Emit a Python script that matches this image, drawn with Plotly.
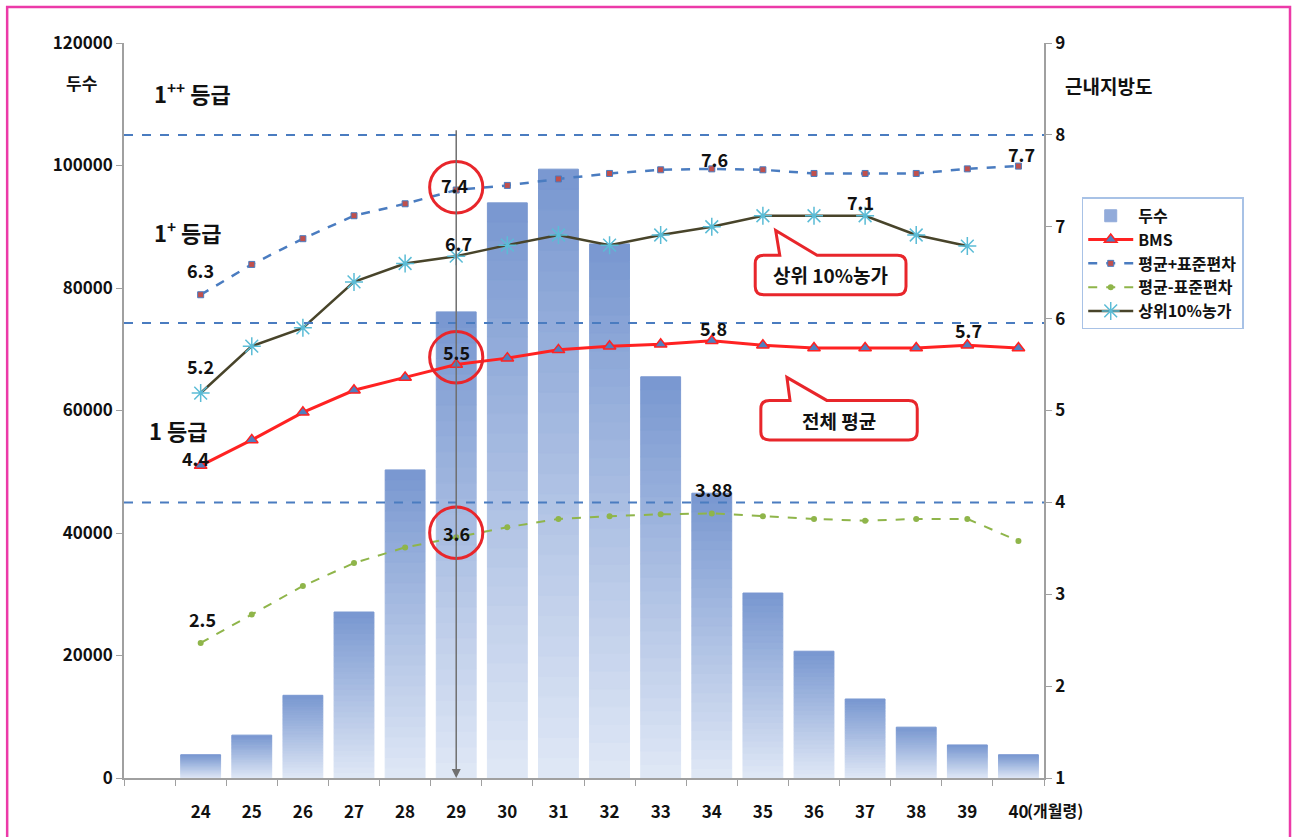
import plotly.graph_objects as go

# ---- data -------------------------------------------------------------
months = list(range(24, 41))
month_labels = [str(m) for m in months]

heads = [3800, 7000, 13500, 27100, 50300, 76100, 93900, 99400, 87200,
         65500, 46500, 30200, 20700, 12900, 8300, 5400, 3800]

bms = [4.40, 4.68, 4.98, 5.22, 5.36, 5.50, 5.57, 5.66, 5.70,
       5.72, 5.76, 5.71, 5.68, 5.68, 5.68, 5.71, 5.68]

mean_plus_sd = [6.26, 6.59, 6.87, 7.12, 7.25, 7.40, 7.45, 7.52, 7.58,
                7.62, 7.63, 7.62, 7.58, 7.58, 7.58, 7.63, 7.66]

mean_minus_sd = [2.47, 2.78, 3.09, 3.34, 3.51, 3.62, 3.73, 3.82, 3.85,
                 3.87, 3.88, 3.85, 3.82, 3.80, 3.82, 3.82, 3.58]

top10_farms = [5.19, 5.70, 5.90, 6.40, 6.60, 6.68, 6.80, 6.91, 6.80,
               6.91, 7.00, 7.12, 7.12, 7.12, 6.91, 6.79, None]

grade_bounds = [105000, 74300, 45000]

FONT = "Noto Sans CJK KR"
BLACK = "#111111"

fig = go.Figure()

# ---- 두수 bars, built as stacked slices to get a vertical gradient ---------
N_STEPS = 30
top_rgb = (120, 151, 208)
bottom_rgb = (224, 232, 246)
for k in range(N_STEPS):
    t = (k + 0.5) / N_STEPS
    rgb = [round(b + (tp - b) * t) for b, tp in zip(bottom_rgb, top_rgb)]
    col = f"rgb({rgb[0]},{rgb[1]},{rgb[2]})"
    fig.add_trace(go.Bar(
        x=months,
        y=[v / N_STEPS for v in heads],
        base=[v * k / N_STEPS for v in heads],
        width=0.78,
        marker=dict(color=col, line=dict(color=col, width=1)),
        name="두수",
        legendgroup="heads",
        legendrank=1,
        showlegend=(k == N_STEPS - 8),
        yaxis="y",
        hoverinfo="skip",
    ))

# ---- line series on the right axis -----------------------------------
fig.add_trace(go.Scatter(
    x=months, y=bms, name="BMS", yaxis="y2", mode="lines+markers",
    line=dict(color="#ff2222", width=3),
    marker=dict(symbol="triangle-up", size=11, color="#4f7fbf",
                line=dict(color="#ff2222", width=1.5)),
    legendgroup="bms", legendrank=2,
))
fig.add_trace(go.Scatter(
    x=months, y=mean_plus_sd, name="평균+표준편차", yaxis="y2", mode="lines+markers",
    line=dict(color="#4a7cc0", width=2.5, dash="dash"),
    marker=dict(symbol="square", size=6, color="#c0504d",
                line=dict(color="#4a7cc0", width=1)),
    legendgroup="mplus", legendrank=3,
))
fig.add_trace(go.Scatter(
    x=months, y=mean_minus_sd, name="평균-표준편차", yaxis="y2", mode="lines+markers",
    line=dict(color="#8fb54a", width=2, dash="dash"),
    marker=dict(symbol="circle", size=6, color="#8fb54a"),
    legendgroup="mminus", legendrank=4,
))
fig.add_trace(go.Scatter(
    x=months, y=top10_farms, name="상위10%농가", yaxis="y2", mode="lines+markers",
    line=dict(color="#48442a", width=2.5),
    marker=dict(symbol="asterisk-open", size=15, color="#5bbcd6",
                line=dict(color="#5bbcd6", width=1.5)),
    legendgroup="top10", legendrank=5,
))

# ---- shapes ------------------------------------------------------------
shapes = []

# grade boundary lines
for b in grade_bounds:
    shapes.append(dict(type="line", xref="paper", x0=0, x1=1, yref="y", y0=b, y1=b,
                       line=dict(color="#4a7cc0", width=2, dash="dash"), layer="above"))

# red circles around the 29-month values
for cy in [7.43, 5.58, 3.67]:
    shapes.append(dict(type="circle", xref="x", yref="y2",
                       x0=29 - 0.52, x1=29 + 0.52, y0=cy - 0.28, y1=cy + 0.28,
                       line=dict(color="#e8262b", width=3), layer="above"))


def callout_path(x0, x1, y0, y1, tip, bx0, bx1, rx=0.17, ry=0.09):
    tx, ty = tip
    return (f"M {x0 + rx},{y1} L {bx0},{y1} L {tx},{ty} L {bx1},{y1} "
            f"L {x1 - rx},{y1} Q {x1},{y1} {x1},{y1 - ry} "
            f"L {x1},{y0 + ry} Q {x1},{y0} {x1 - rx},{y0} "
            f"L {x0 + rx},{y0} Q {x0},{y0} {x0},{y0 + ry} "
            f"L {x0},{y1 - ry} Q {x0},{y1} {x0 + rx},{y1} Z")


callouts = [
    ("상위 10%농가", 34.85, 37.80, 6.26, 6.69, (35.25, 6.96), 35.33, 36.06),
    ("전체 평균", 34.96, 38.02, 4.68, 5.11, (35.47, 5.36), 35.53, 36.25),
]
annotations = []
for text, x0, x1, y0, y1, tip, bx0, bx1 in callouts:
    shapes.append(dict(type="path", xref="x", yref="y2",
                       path=callout_path(x0, x1, y0, y1, tip, bx0, bx1),
                       fillcolor="white", line=dict(color="#e8262b", width=3),
                       layer="above"))
    annotations.append(dict(x=(x0 + x1) / 2, y=(y0 + y1) / 2, xref="x", yref="y2",
                            text=f"<b>{text}</b>", showarrow=False,
                            font=dict(family=FONT, size=19, color=BLACK)))

# page frame
shapes.append(dict(type="rect", xref="paper", yref="paper",
                   x0=-0.127, x1=1.2674, y0=-0.12, y1=1.049,
                   line=dict(color="#ec3aa8", width=2.5), layer="above"))

# ---- vertical arrow at 29 months --------------------------------------
annotations.append(dict(x=29, y=0, xref="x", yref="y", ax=29, ay=106000,
                        axref="x", ayref="y", showarrow=True, arrowhead=2,
                        arrowsize=1.2, arrowwidth=1.5, arrowcolor="#707070", text=""))

# ---- value labels ----------------------------------------------------
series = {"bms": bms, "mplus": mean_plus_sd, "mminus": mean_minus_sd, "top10": top10_farms}
value_labels = [
    ("mplus", 24, 0, 25, 1), ("top10", 24, 0, 27, 1), ("bms", 24, -5, 8, 1),
    ("mminus", 24, 2, 24, 1),
    ("mplus", 29, -2, 5, 1), ("top10", 29, 2, 13, 1), ("bms", 29, 0, 13, 1),
    ("mminus", 29, 0, 4, 1),
    ("mplus", 34, 3, 10, 1), ("mplus", 40, 3, 12, 1), ("top10", 37, -5, 14, 1),
    ("bms", 34, 2, 13, 1), ("bms", 39, 1, 15, 1), ("mminus", 34, 2, 24, 2),
]
for key, m, dx, dy, dec in value_labels:
    v = series[key][months.index(m)]
    annotations.append(dict(x=m, y=v, xref="x", yref="y2", text=f"<b>{v:.{dec}f}</b>",
                            showarrow=False, xshift=dx, yshift=dy,
                            font=dict(family=FONT, size=18, color=BLACK)))

# ---- grade and axis titles ----------------------------------------------
text_notes = [
    ("1<sup>++</sup> 등급", 0.030, 0.932, "left", 22, 0),
    ("1<sup>+</sup> 등급", 0.030, 0.743, "left", 22, 0),
    ("1 등급", 0.025, 0.4735, "left", 22, 0),
    ("두수", -0.0457, 0.9456, "center", 17, 0),
    ("근내지방도", 1.0696, 0.9415, "center", 19, 0),
    ("(개월령)", 1.0, -0.0435, "left", 16, -19),
]
for text, x, y, anchor, size, xs in text_notes:
    annotations.append(dict(x=x, y=y, xref="paper", yref="paper", text=f"<b>{text}</b>",
                            showarrow=False, xanchor=anchor, yanchor="middle",
                            xshift=xs, font=dict(family=FONT, size=size, color=BLACK)))

axis_line = "#a0a0a0"
tickfont = dict(family=FONT, size=17, color=BLACK, weight="bold")

fig.update_layout(
    width=1295, height=837,
    margin=dict(l=124, r=251, t=43, b=59),
    paper_bgcolor="white", plot_bgcolor="white",
    barmode="overlay",
    showlegend=True,
    legend=dict(x=1.041, y=0.79, xanchor="left", yanchor="top",
                bgcolor="white", bordercolor="#a8c2e6", borderwidth=1.5,
                font=dict(family=FONT, size=16, color=BLACK, weight="bold"),
                itemwidth=45, tracegroupgap=2, traceorder="normal"),
    xaxis=dict(range=[22.5, 40.5], tickmode="array", tickvals=months,
               ticktext=month_labels, ticks="", showgrid=False, zeroline=False,
               showline=True, linecolor=axis_line, linewidth=1.5,
               tickfont=tickfont, ticklabelstandoff=18,
               minor=dict(tickmode="array", tickvals=[22.5 + i for i in range(19)],
                          ticks="outside", ticklen=6, tickcolor=axis_line, showgrid=False)),
    yaxis=dict(range=[0, 120000], dtick=20000, tickformat="d", showgrid=False,
               zeroline=False, showline=True, linecolor=axis_line, linewidth=1.5,
               ticks="outside", ticklen=6, tickcolor=axis_line, tickfont=tickfont),
    yaxis2=dict(range=[1, 9], dtick=1, overlaying="y", side="right", showgrid=False,
                zeroline=False, showline=True, linecolor=axis_line, linewidth=1.5,
                ticks="outside", ticklen=6, tickcolor=axis_line, tickfont=tickfont),
    shapes=shapes,
    annotations=annotations,
)

fig.write_html("out.html")
